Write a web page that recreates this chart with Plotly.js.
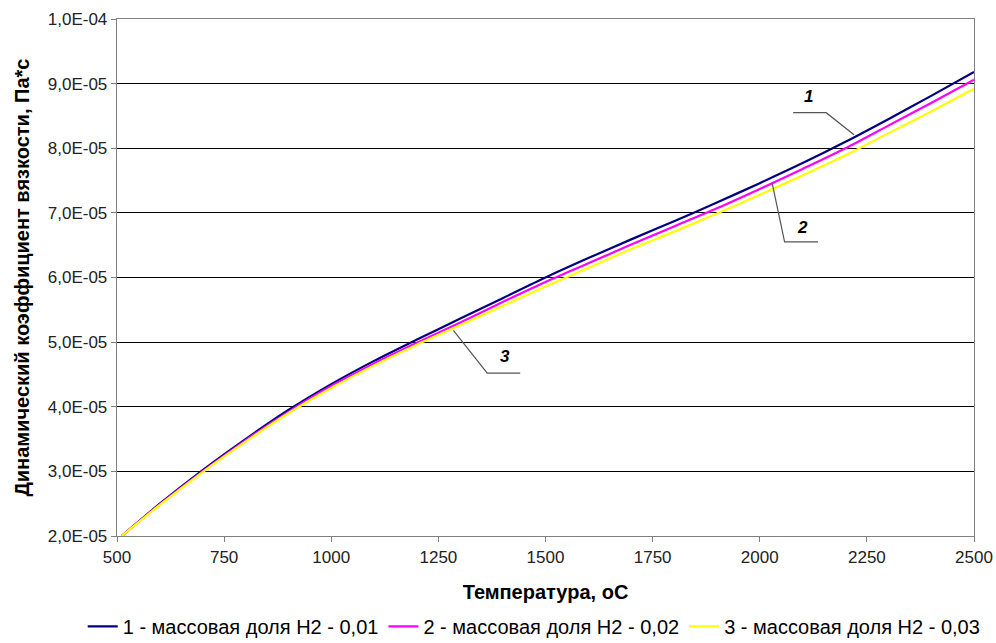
<!DOCTYPE html>
<html>
<head>
<meta charset="utf-8">
<script src="https://cdn.plot.ly/plotly-3.0.1.min.js"></script>
<style>html,body{margin:0;padding:0;background:#fff;}#chart{width:996px;height:643px;}</style>
</head>
<body>
<div id="chart"></div>
<script>
// Temperature, °C
var temps = [511, 600, 700, 800, 900, 1000, 1100, 1200, 1300, 1400, 1500, 1600, 1700, 1800, 1900, 2000, 2100, 2200, 2300, 2400, 2500];
// Viscosity ×1e-5, Pa*s
var visc1 = [2.00, 2.50, 3.02, 3.50, 3.95, 4.35, 4.71, 5.04, 5.36, 5.68, 6.00, 6.30, 6.59, 6.87, 7.16, 7.46, 7.77, 8.10, 8.45, 8.81, 9.18];
var visc2 = [2.00, 2.49, 3.00, 3.48, 3.92, 4.32, 4.67, 4.99, 5.30, 5.62, 5.93, 6.22, 6.51, 6.79, 7.07, 7.37, 7.68, 8.00, 8.35, 8.70, 9.06];
var visc3 = [2.00, 2.48, 2.99, 3.46, 3.90, 4.29, 4.64, 4.96, 5.26, 5.56, 5.86, 6.15, 6.44, 6.71, 6.99, 7.28, 7.58, 7.89, 8.23, 8.57, 8.92];
var seriesNames = ["1 - массовая доля Н2 - 0,01", "2 - массовая доля Н2 - 0,02", "3 - массовая доля Н2 - 0,03"];
var seriesColors = ["#000080", "#ff00ff", "#ffff00"];
var xTicks = [500, 750, 1000, 1250, 1500, 1750, 2000, 2250, 2500];
var yTickVals = [2e-5, 3e-5, 4e-5, 5e-5, 6e-5, 7e-5, 8e-5, 9e-5, 1e-4];
var yTickText = ["2,0E-05", "3,0E-05", "4,0E-05", "5,0E-05", "6,0E-05", "7,0E-05", "8,0E-05", "9,0E-05", "1,0E-04"];
// callout labels: label, text position, leader polyline (T, viscosity×1e-5)
var callouts = [
  {text: "1", x: 2113, y: 8.80, path: [[2078, 8.55], [2155, 8.55], [2220, 8.21]]},
  {text: "2", x: 2099, y: 6.78, path: [[2029, 7.46], [2058, 6.55], [2136, 6.55]]},
  {text: "3", x: 1405, y: 4.77, path: [[1285, 5.18], [1364, 4.52], [1441, 4.52]]}
];

var scale = 1e-5;
function sc(a) { return a.map(function (v) { return v * scale; }); }
var allVisc = [visc1, visc2, visc3];
var traces = allVisc.map(function (v, i) {
  return {x: temps, y: sc(v), type: "scatter", mode: "lines", name: seriesNames[i],
          line: {color: seriesColors[i], width: 2.2, shape: "spline", smoothing: 0.8}};
});

var shapes = callouts.map(function (c) {
  var d = c.path.map(function (p, k) { return (k ? "L" : "M") + p[0] + "," + (p[1] * scale); }).join(" ");
  return {type: "path", xref: "x", yref: "y", path: d, line: {color: "#555555", width: 1.2}};
});
var annotations = callouts.map(function (c) {
  return {x: c.x, y: c.y * scale, xref: "x", yref: "y", text: "<b><i>" + c.text + "</i></b>",
          showarrow: false, font: {family: "Liberation Sans, Arial", size: 17, color: "#000"}};
});

var layout = {
  width: 996, height: 643,
  margin: {l: 117, r: 22, t: 19, b: 107, autoexpand: false},
  paper_bgcolor: "#fff", plot_bgcolor: "#fff",
  font: {family: "Liberation Sans, Arial", color: "#000"},
  showlegend: true,
  legend: {orientation: "h", x: -0.04, xanchor: "left",
           y: -0.175, yanchor: "middle",
           font: {size: 20, color: "#000"}, itemwidth: 30, tracegroupgap: 0},
  xaxis: {range: [500, 2500], tickvals: xTicks, ticktext: xTicks.map(String), automargin: true,
          showgrid: false, zeroline: false, showline: true, linecolor: "#808080", linewidth: 1.3,
          mirror: true, ticks: "outside", ticklen: 5, tickcolor: "#808080",
          tickfont: {size: 17, color: "#222"},
          title: {text: "<b>Температура, оС</b>", font: {size: 20, color: "#000"}, standoff: 19}},
  yaxis: {range: [2e-5, 1e-4], tickvals: yTickVals, ticktext: yTickText, automargin: true,
          showgrid: true, gridcolor: "#000", gridwidth: 1, zeroline: false,
          showline: true, linecolor: "#808080", linewidth: 1.3, mirror: true,
          ticks: "outside", ticklen: 5, tickcolor: "#808080",
          tickfont: {size: 17, color: "#222"},
          title: {text: "<b>Динамический коэффициент вязкости, Па*с</b>", font: {size: 20, color: "#000"}, standoff: 12}},
  shapes: shapes,
  annotations: annotations
};
Plotly.newPlot("chart", traces, layout, {staticPlot: true});
</script>
</body>
</html>
